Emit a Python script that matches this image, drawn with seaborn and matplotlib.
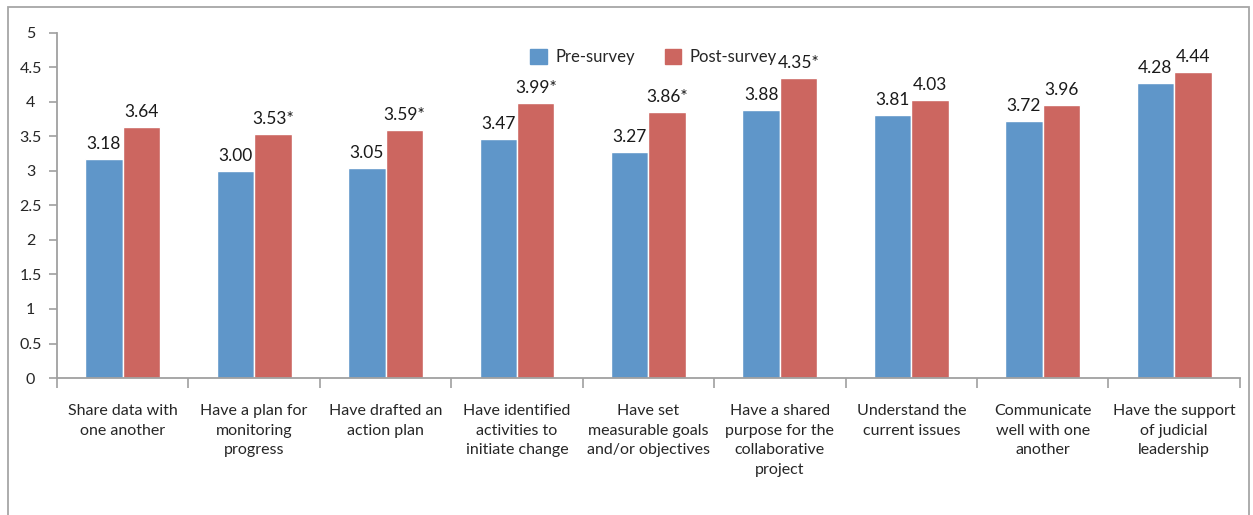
import matplotlib
matplotlib.use('Agg')
import matplotlib.pyplot as plt
import matplotlib.patches as mpatches
import seaborn as sns
import pandas as pd
import numpy as np

# data
categories = ['Share data with\none another',
              'Have a plan for\nmonitoring\nprogress',
              'Have drafted an\naction plan',
              'Have identified\nactivities to\ninitiate change',
              'Have set\nmeasurable goals\nand/or objectives',
              'Have a shared\npurpose for the\ncollaborative\nproject',
              'Understand the\ncurrent issues',
              'Communicate\nwell with one\nanother',
              'Have the support\nof judicial\nleadership']
pre_survey = [3.18, 3.00, 3.05, 3.47, 3.27, 3.88, 3.81, 3.72, 4.28]
post_survey = [3.64, 3.53, 3.59, 3.99, 3.86, 4.35, 4.03, 3.96, 4.44]
post_signif = [False, True, True, True, True, True, False, False, False]
series = ['Pre-survey', 'Post-survey']
colors = ['#5F96C9', '#CC6660']

df = pd.DataFrame({
    'category': categories * 2,
    'score': pre_survey + post_survey,
    'survey': [series[0]] * len(categories) + [series[1]] * len(categories),
})

sns.set_theme(style='white')
plt.rcParams['font.family'] = ['Lato', 'DejaVu Sans']

fig = plt.figure(figsize=(12.53, 5.15), dpi=100)
ax = fig.add_axes([0.0455, 0.266, 0.944, 0.67])

sns.barplot(data=df, x='category', y='score', hue='survey', palette=colors,
            width=0.57, saturation=1, ax=ax, legend=False)

# value labels
pre_labels = [f'{v:.2f}' for v in pre_survey]
post_labels = [f'{v:.2f}' + ('*' if s else '') for v, s in zip(post_survey, post_signif)]
ax.bar_label(ax.containers[0], labels=pre_labels, padding=5, fontsize=12.5, color='#1a1a1a')
ax.bar_label(ax.containers[1], labels=post_labels, padding=5, fontsize=12.5, color='#1a1a1a')

ax.set_ylim(0, 5)
ax.set_xlim(-0.5, len(categories) - 0.5)
ax.set_yticks(np.arange(0, 5.01, 0.5))
ax.set_yticklabels(['0', '0.5', '1', '1.5', '2', '2.5', '3', '3.5', '4', '4.5', '5'])
ax.set_xlabel('')
ax.set_ylabel('')

# category labels at centres, tick marks at the boundaries
ax.set_xticks(range(len(categories)))
ax.set_xticklabels(categories, fontsize=11.5, linespacing=1.5, va='top')
ax.set_xticks(np.arange(-0.5, len(categories), 1), minor=True)
ax.tick_params(axis='x', which='major', bottom=True, length=0, pad=19)
ax.tick_params(axis='x', which='minor', bottom=True, length=7, width=1.2,
               color='#A0A0A0', direction='out')
ax.tick_params(axis='y', left=True, length=6, width=1.2, color='#A0A0A0',
               direction='out', labelsize=11.5, pad=13)
for t in ax.get_yticklabels():
    t.set_horizontalalignment('center')

for side in ['top', 'right']:
    ax.spines[side].set_visible(False)
for side in ['left', 'bottom']:
    ax.spines[side].set_color('#A0A0A0')
    ax.spines[side].set_linewidth(1.3)

handles = [mpatches.Patch(color=c, label=s) for c, s in zip(colors, series)]
ax.legend(handles=handles, loc='center left', bbox_to_anchor=(0.393, 0.93),
          ncol=2, frameon=False, fontsize=12, handlelength=1.0, handleheight=1.0,
          columnspacing=1.8, handletextpad=0.5, borderpad=0)

# outer chart frame
fig.add_artist(mpatches.Rectangle((0.0065, -0.02), 0.99, 1.006, transform=fig.transFigure,
                                  fill=False, edgecolor='#A6A6A6', linewidth=1.3))

plt.savefig('out.png', dpi=100)
plt.close()
